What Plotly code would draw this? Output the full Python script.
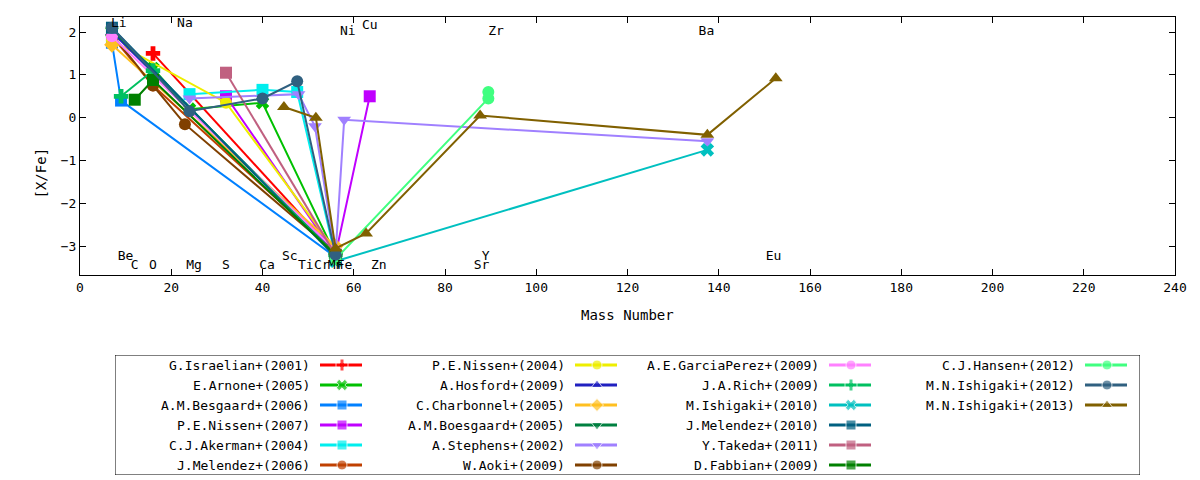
import plotly.graph_objects as go

# element labels drawn on the chart
elem_names = ["Li", "Be", "C", "O", "Na", "Mg", "S", "Ca", "Sc", "Ti", "Cr", "Mn", "Fe", "Ni", "Cu", "Zn", "Sr", "Y", "Zr", "Ba", "Eu"]
elem_x = [8.5, 10, 12, 16, 23, 25, 32, 41, 46, 49.5, 53, 56, 58, 58.7, 63.5, 65.5, 88, 88.9, 91.2, 137.3, 152.0]
elem_y = [2.2, -3.25, -3.45, -3.45, 2.2, -3.45, -3.45, -3.45, -3.25, -3.45, -3.45, -3.45, -3.45, 2.0, 2.15, -3.45, -3.45, -3.25, 2.0, 2.0, -3.25]

names = ["G.Israelian+(2001)", "E.Arnone+(2005)", "A.M.Besgaard+(2006)", "P.E.Nissen+(2007)",
         "C.J.Akerman+(2004)", "J.Melendez+(2006)", "P.E.Nissen+(2004)", "A.Hosford+(2009)",
         "C.Charbonnel+(2005)", "A.M.Boesgaard+(2005)", "A.Stephens+(2002)", "W.Aoki+(2009)",
         "A.E.GarciaPerez+(2009)", "J.A.Rich+(2009)", "M.Ishigaki+(2010)", "J.Melendez+(2010)",
         "Y.Takeda+(2011)", "D.Fabbian+(2009)", "C.J.Hansen+(2012)", "M.N.Ishigaki+(2012)",
         "M.N.Ishigaki+(2013)"]
colors = ["#ff0000", "#00c000", "#0080ff", "#c000ff", "#00eeee", "#c04000", "#eeee00", "#2020c0",
          "#ffc020", "#008040", "#a080ff", "#804000", "#ff80ff", "#00c060", "#00c0c0", "#006080",
          "#c06080", "#008000", "#40ff80", "#306080", "#806000"]
symbols = ["cross", "x", "square", "square", "square", "circle", "circle", "triangle-up",
           "diamond", "triangle-down", "triangle-down", "circle", "circle", "cross", "x", "square",
           "square", "square", "circle", "circle", "triangle-up"]

xs = [
    [16, 56],
    [7, 16, 24, 40, 56],
    [7, 9, 56],
    [32, 56, 63.5],
    [24, 40, 47.6, 56],
    [7, 16, 56],
    [7, 32, 56],
    [7, 56],
    [7, 56],
    [7, 56],
    [24, 47.9, 51.5, 56, 57.9, 137.5],
    [7, 16, 23, 56],
    [7, 56],
    [9, 16, 56],
    [56, 137.5],
    [7, 56],
    [32, 56],
    [12, 16, 56],
    [56, 89.5, 89.5],
    [7, 24, 40, 47.6, 56],
    [44.7, 51.7, 56, 62.7, 87.7, 137.5, 152.5],
]
ys = [
    [1.5, -3.15],
    [2.0, 1.15, 0.2, 0.35, -3.2],
    [1.75, 0.4, -3.25],
    [0.5, -3.2, 0.5],
    [0.55, 0.65, 0.6, -3.25],
    [1.9, 0.75, -3.15],
    [1.8, 0.35, -3.1],
    [2.0, -3.15],
    [1.7, -3.0],
    [2.05, -3.2],
    [0.45, 0.55, -0.2, -3.2, -0.05, -0.55],
    [1.95, 0.75, -0.15, -3.15],
    [1.9, -3.1],
    [0.5, 1.1, -3.2],
    [-3.35, -0.75],
    [2.1, -3.25],
    [1.05, -3.2],
    [0.42, 0.88, -3.2],
    [-3.3, 0.45, 0.6],
    [2.1, 0.15, 0.45, 0.85, -3.2],
    [0.25, 0.0, -3.05, -2.7, 0.05, -0.4, 0.92],
]

FONT = "DejaVu Sans Mono"
fig = go.Figure()

for n, c, s, x, y in zip(names, colors, symbols, xs, ys):
    fig.add_trace(go.Scatter(x=x, y=y, mode="lines+markers", name=n,
                             line=dict(color=c, width=2),
                             marker=dict(color=c, symbol=s, size=12),
                             showlegend=False))

fig.add_trace(go.Scatter(x=elem_x, y=elem_y, mode="text", text=elem_names,
                         textfont=dict(family=FONT, size=13, color="black"),
                         showlegend=False, hoverinfo="skip"))

# hand-made gnuplot-style key on a second axis pair (page pixel units)
col_right = [312, 567, 821, 1077]
row_y = [365, 385, 405, 425, 445, 465]
for i, (n, c, s) in enumerate(zip(names, colors, symbols)):
    col, row = divmod(i, 6)
    xr = col_right[col]
    yy = row_y[row]
    fig.add_trace(go.Scatter(x=[xr + 8, xr + 30, xr + 50], y=[yy, yy, yy],
                             mode="lines+markers", xaxis="x2", yaxis="y2",
                             line=dict(color=c, width=3),
                             marker=dict(color=c, symbol=s, size=[0, 10, 0]),
                             showlegend=False, hoverinfo="skip"))
    fig.add_annotation(x=xr, y=yy, xref="x2", yref="y2", text=n, showarrow=False,
                       xanchor="right", font=dict(family=FONT, size=13, color="black"))

fig.add_shape(type="rect", xref="x2", yref="y2", x0=115, x1=1140, y0=355, y1=475,
              line=dict(color="black", width=1))

axis_common = dict(showgrid=False, zeroline=False, showline=True, mirror="ticks",
                   linecolor="black", ticks="inside", ticklen=6, tickcolor="black",
                   tickfont=dict(family=FONT, size=13, color="black"))

fig.update_layout(
    width=1192, height=472,
    margin=dict(l=72, r=25, t=9, b=5),
    paper_bgcolor="white", plot_bgcolor="white",
    font=dict(family=FONT, size=13, color="black"),
    xaxis=dict(range=[0, 240], dtick=20, anchor="y", **axis_common),
    yaxis=dict(range=[-3.67, 2.35], dtick=1, domain=[200 / 458, 1], anchor="x",
               **axis_common),
    xaxis2=dict(range=[115, 1140], domain=[35 / 1095, 1060 / 1095], visible=False,
                anchor="y2"),
    yaxis2=dict(range=[475, 355], domain=[0, 120 / 458], visible=False, anchor="x2"),
)
fig.add_annotation(x=0.5, y=(480 - 5 - 325) / 458, xref="paper", yref="paper",
                   text="Mass Number", showarrow=False,
                   font=dict(family=FONT, size=14, color="black"))
fig.add_annotation(x=-50 / 1095, y=(480 - 5 - 146) / 458, xref="paper", yref="paper",
                   text="[X/Fe]", showarrow=False, textangle=-90,
                   font=dict(family=FONT, size=14, color="black"))

fig.write_html("out.html")
